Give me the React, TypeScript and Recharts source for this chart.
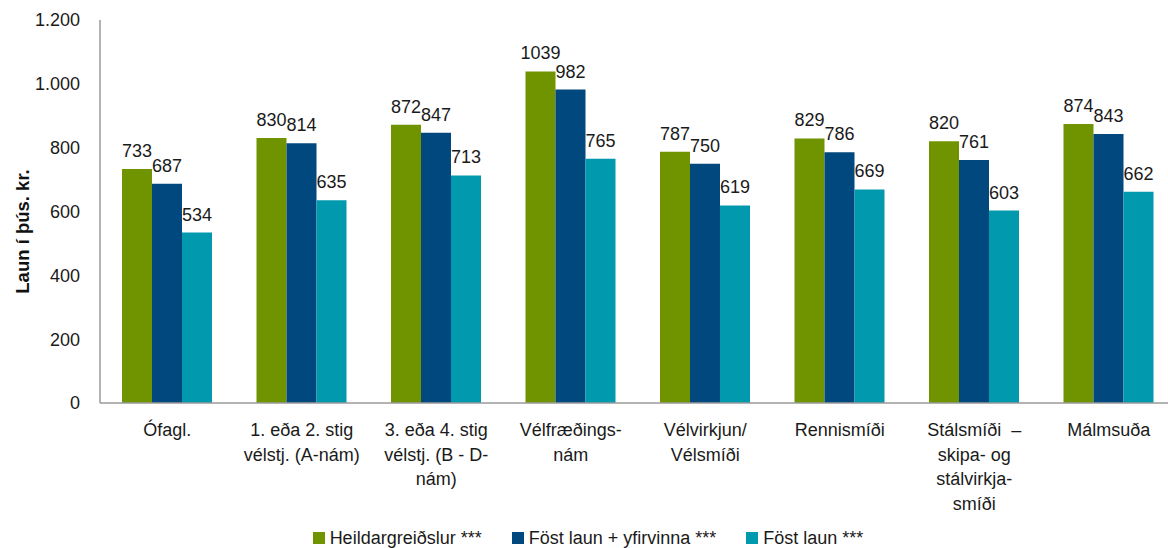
import { BarChart, Bar, XAxis, YAxis, Legend, LabelList, Label } from "recharts";

const categories = [
  "Ófagl.",
  "1. eða 2. stig\nvélstj. (A-nám)",
  "3. eða 4. stig\nvélstj. (B - D-\nnám)",
  "Vélfræðings-\nnám",
  "Vélvirkjun/\nVélsmíði",
  "Rennismíði",
  "Stálsmíði  –\nskipa- og\nstálvirkja-\nsmíði",
  "Málmsuða",
];

const heildargreidslur = [733, 830, 872, 1039, 787, 829, 820, 874];
const fostYfirvinna = [687, 814, 847, 982, 750, 786, 761, 843];
const fostLaun = [534, 635, 713, 765, 619, 669, 603, 662];

const yTicks = [0, 200, 400, 600, 800, 1000, 1200];

const seriesInfo = [
  { key: "heild", name: "Heildargreiðslur ***", color: "#709300" },
  { key: "yfir", name: "Föst laun + yfirvinna ***", color: "#00487d" },
  { key: "fost", name: "Föst laun ***", color: "#0099ad" },
];

const FONT = '"Liberation Sans", Arial, sans-serif';
const FS = 18;

const data = categories.map((c, i) => ({
  cat: c,
  heild: heildargreidslur[i],
  yfir: fostYfirvinna[i],
  fost: fostLaun[i],
}));

const fmt = (v: number) => v.toLocaleString("de-DE");

const CatTick = ({ x, y, payload }: any) => {
  const lines = String(payload.value).split("\n");
  return (
    <text x={x} y={y} textAnchor="middle" fontFamily={FONT} fontSize={FS} fill="#1a1a1a">
      {lines.map((l, i) => (
        <tspan key={i} x={x} dy={i === 0 ? 25 : 24.5} xmlSpace="preserve">
          {l}
        </tspan>
      ))}
    </text>
  );
};

const LegendContent = () => (
  <div
    style={{
      display: "flex",
      justifyContent: "center",
      alignItems: "center",
      gap: 30,
      fontFamily: FONT,
      fontSize: FS,
      color: "#1a1a1a",
      height: 32,
      paddingTop: 6,
    }}
  >
    {seriesInfo.map((s) => (
      <div key={s.key} style={{ display: "flex", alignItems: "center", gap: 5 }}>
        <span style={{ width: 12, height: 12, background: s.color, display: "inline-block" }} />
        <span>{s.name}</span>
      </div>
    ))}
  </div>
);

const YLabel = ({ viewBox }: any) => {
  const cy = viewBox.y + viewBox.height / 2 + 20;
  return (
    <text
      x={22}
      y={cy}
      transform={`rotate(-90, 22, ${cy})`}
      textAnchor="middle"
      dominantBaseline="central"
      fontFamily={FONT}
      fontWeight="bold"
      fontSize={18.5}
      fill="#111"
    >
      Laun í þús. kr.
    </text>
  );
};

export default function App() {
  return (
    <div style={{ position: "absolute", left: 0, top: 0, width: 1168, height: 548, overflow: "hidden", background: "#fff" }}>
      <BarChart
        width={1176}
        height={548}
        data={data}
        margin={{ top: 20, right: 0, left: 0, bottom: 0 }}
        barCategoryGap={22}
        barGap={0}
      >
        <XAxis
          dataKey="cat"
          interval={0}
          height={113}
          tickLine={false}
          stroke="#9a9a9a"
          strokeWidth={1.5}
          tick={<CatTick />}
        />
        <YAxis
          width={100}
          domain={[0, 1200]}
          ticks={yTicks}
          tickFormatter={fmt}
          tickLine={false}
          tickMargin={14}
          stroke="#9a9a9a"
          strokeWidth={1.5}
          tick={{ fontFamily: FONT, fontSize: FS, fill: "#1a1a1a" }}
        >
          <Label content={<YLabel />} />
        </YAxis>
        <Legend verticalAlign="bottom" height={32} content={<LegendContent />} />
        {seriesInfo.map((s) => (
          <Bar key={s.key} dataKey={s.key} name={s.name} fill={s.color} isAnimationActive={false}>
            <LabelList
              dataKey={s.key}
              position="top"
              offset={12}
              fontFamily={FONT}
              fontSize={FS}
              fill="#1a1a1a"
            />
          </Bar>
        ))}
      </BarChart>
    </div>
  );
}
